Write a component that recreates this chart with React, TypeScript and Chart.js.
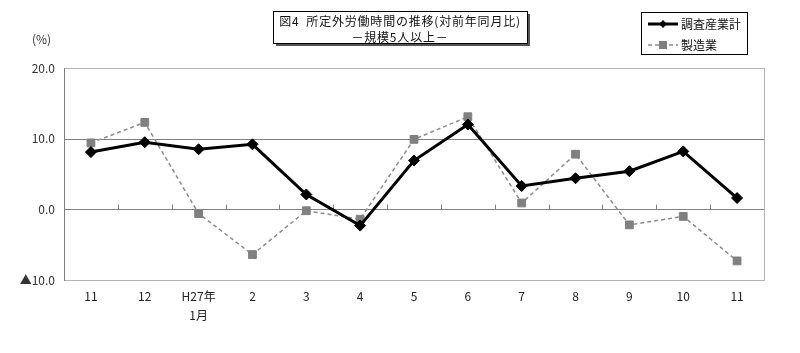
import React, { useEffect, useRef } from "react";
import { Chart, registerables } from "chart.js";

Chart.register(...registerables);

// Month labels (H26/11 .. H27/11)
const categories: (string | string[])[] = ["11", "12", ["H27年", "1月"], "2", "3", "4", "5", "6", "7", "8", "9", "10", "11"];

// 対前年同月比 (%)
const allIndustries = [8.1, 9.5, 8.5, 9.2, 2.1, -2.3, 6.9, 12.0, 3.3, 4.4, 5.4, 8.2, 1.6];
const manufacturing = [9.4, 12.3, -0.6, -6.4, -0.2, -1.4, 9.9, 13.1, 0.9, 7.8, -2.2, -1.0, -7.3];

const yTicks = [-10, 0, 10, 20];

const titleLines = ["図4  所定外労働時間の推移(対前年同月比)", "－規模5人以上－"];
const seriesNames = ["調査産業計", "製造業"];

const FONT = '"Noto Sans CJK JP", "Noto Sans", sans-serif';

const framePlugin = {
  id: "frame",
  beforeDatasetsDraw(chart: any) {
    const { ctx, chartArea: a, scales } = chart;
    const y = scales.y;
    const x = scales.x;
    ctx.save();
    // outer frame
    ctx.strokeStyle = "#b4b4b4";
    ctx.lineWidth = 1;
    ctx.strokeRect(Math.round(a.left) + 0.5, Math.round(a.top) + 0.5, Math.round(a.right - a.left), Math.round(a.bottom - a.top));
    // left axis and reference lines
    ctx.strokeStyle = "#808080";
    ctx.beginPath();
    ctx.moveTo(Math.round(a.left) + 0.5, a.top);
    ctx.lineTo(Math.round(a.left) + 0.5, a.bottom + 1);
    [10, 0].forEach((v) => {
      const py = Math.round(y.getPixelForValue(v)) + 0.5;
      ctx.moveTo(a.left, py);
      ctx.lineTo(a.right, py);
    });
    // category tick marks on the zero line
    const zy = Math.round(y.getPixelForValue(0)) + 0.5;
    const n = categories.length;
    for (let i = 1; i < n; i++) {
      const px = Math.round((x.getPixelForValue(i - 1) + x.getPixelForValue(i)) / 2) + 0.5;
      ctx.moveTo(px, zy);
      ctx.lineTo(px, zy - 5);
    }
    ctx.stroke();
    ctx.restore();
  },
  afterDraw(chart: any) {
    const { ctx } = chart;
    ctx.save();
    // title box with shadow
    const tx = 273, ty = 11, tw = 254, th = 32;
    ctx.fillStyle = "#555";
    ctx.fillRect(tx + 3, ty + 3, tw, th);
    ctx.fillStyle = "#fff";
    ctx.fillRect(tx, ty, tw, th);
    ctx.strokeStyle = "#000";
    ctx.lineWidth = 1;
    ctx.strokeRect(tx + 0.5, ty + 0.5, tw, th);
    ctx.fillStyle = "#111";
    ctx.font = `12px ${FONT}`;
    ctx.textAlign = "center";
    ctx.textBaseline = "middle";
    (ctx as any).letterSpacing = "0.8px";
    ctx.fillText(titleLines[0], tx + tw / 2, 21);
    ctx.fillText(titleLines[1], tx + tw / 2, 37);
    (ctx as any).letterSpacing = "0px";

    // unit label
    ctx.textAlign = "left";
    ctx.fillStyle = "#333";
    ctx.fillText("(%)", 32, 39);

    // legend box
    const lx = 641, ly = 12, lw = 106, lh = 42;
    ctx.strokeStyle = "#000";
    ctx.strokeRect(lx + 0.5, ly + 0.5, lw, lh);
    const rows = [24, 45];
    chart.data.datasets.forEach((ds: any, i: number) => {
      const ry = rows[i];
      ctx.save();
      ctx.strokeStyle = ds.borderColor;
      ctx.lineWidth = ds.borderWidth;
      ctx.setLineDash(ds.borderDash || []);
      ctx.beginPath();
      ctx.moveTo(648, ry);
      ctx.lineTo(678, ry);
      ctx.stroke();
      ctx.restore();
      ctx.fillStyle = ds.pointBackgroundColor;
      if (ds.pointStyle === "rectRot") {
        ctx.beginPath();
        ctx.moveTo(663, ry - 4);
        ctx.lineTo(667, ry);
        ctx.lineTo(663, ry + 4);
        ctx.lineTo(659, ry);
        ctx.closePath();
        ctx.fill();
      } else {
        ctx.fillRect(659, ry - 4, 8, 8);
      }
      ctx.fillStyle = "#111";
      ctx.textAlign = "left";
      ctx.fillText(ds.label, 681, ry);
    });
    ctx.restore();
  },
};

export default function App() {
  const ref = useRef<HTMLCanvasElement | null>(null);

  useEffect(() => {
    document.body.style.margin = "0";
    const canvas = ref.current;
    if (!canvas) return;
    const chart = new Chart(canvas, {
      type: "line",
      data: {
        labels: categories,
        datasets: [
          {
            label: seriesNames[0],
            data: allIndustries,
            borderColor: "#000",
            backgroundColor: "#000",
            pointBackgroundColor: "#000",
            pointBorderColor: "#000",
            borderWidth: 3,
            pointBorderWidth: 1,
            pointStyle: "rectRot",
            pointRadius: 5.5,
            tension: 0,
          },
          {
            label: seriesNames[1],
            data: manufacturing,
            borderColor: "#8c8c8c",
            backgroundColor: "#808080",
            pointBackgroundColor: "#808080",
            pointBorderColor: "#808080",
            borderWidth: 1.5,
            borderDash: [4, 3],
            pointBorderWidth: 1,
            pointStyle: "rect",
            pointRadius: 5.5,
            tension: 0,
          },
        ],
      },
      options: {
        animation: false,
        responsive: false,
        maintainAspectRatio: false,
        layout: { padding: { top: 68, right: 36, left: 0, bottom: 0 } },
        plugins: {
          legend: { display: false },
          title: { display: false },
          tooltip: { enabled: false },
        },
        scales: {
          x: {
            offset: true,
            grid: { display: false, drawTicks: false },
            border: { display: false },
            ticks: {
              color: "#222",
              font: { family: FONT, size: 12, lineHeight: 1.6 },
              padding: 7,
              maxRotation: 0,
              autoSkip: false,
            },
            afterFit(scale: any) {
              scale.height = 73;
            },
          },
          y: {
            min: -10,
            max: 20,
            grid: { display: false, drawTicks: false },
            border: { display: false },
            afterBuildTicks(scale: any) {
              scale.ticks = yTicks.map((v) => ({ value: v }));
            },
            ticks: {
              color: "#333",
              font: { family: FONT, size: 12 },
              padding: 9,
              callback: (v: any) => (Number(v) < 0 ? "▲" + Math.abs(Number(v)).toFixed(1) : Number(v).toFixed(1)),
            },
            afterFit(scale: any) {
              scale.width = 64;
            },
          },
        },
      },
      plugins: [framePlugin],
    });
    return () => chart.destroy();
  }, []);

  return (
    <div style={{ position: "fixed", left: 0, top: 0, width: 800, height: 353, background: "#fff" }}>
      <canvas ref={ref} width={800} height={353} />
    </div>
  );
}
